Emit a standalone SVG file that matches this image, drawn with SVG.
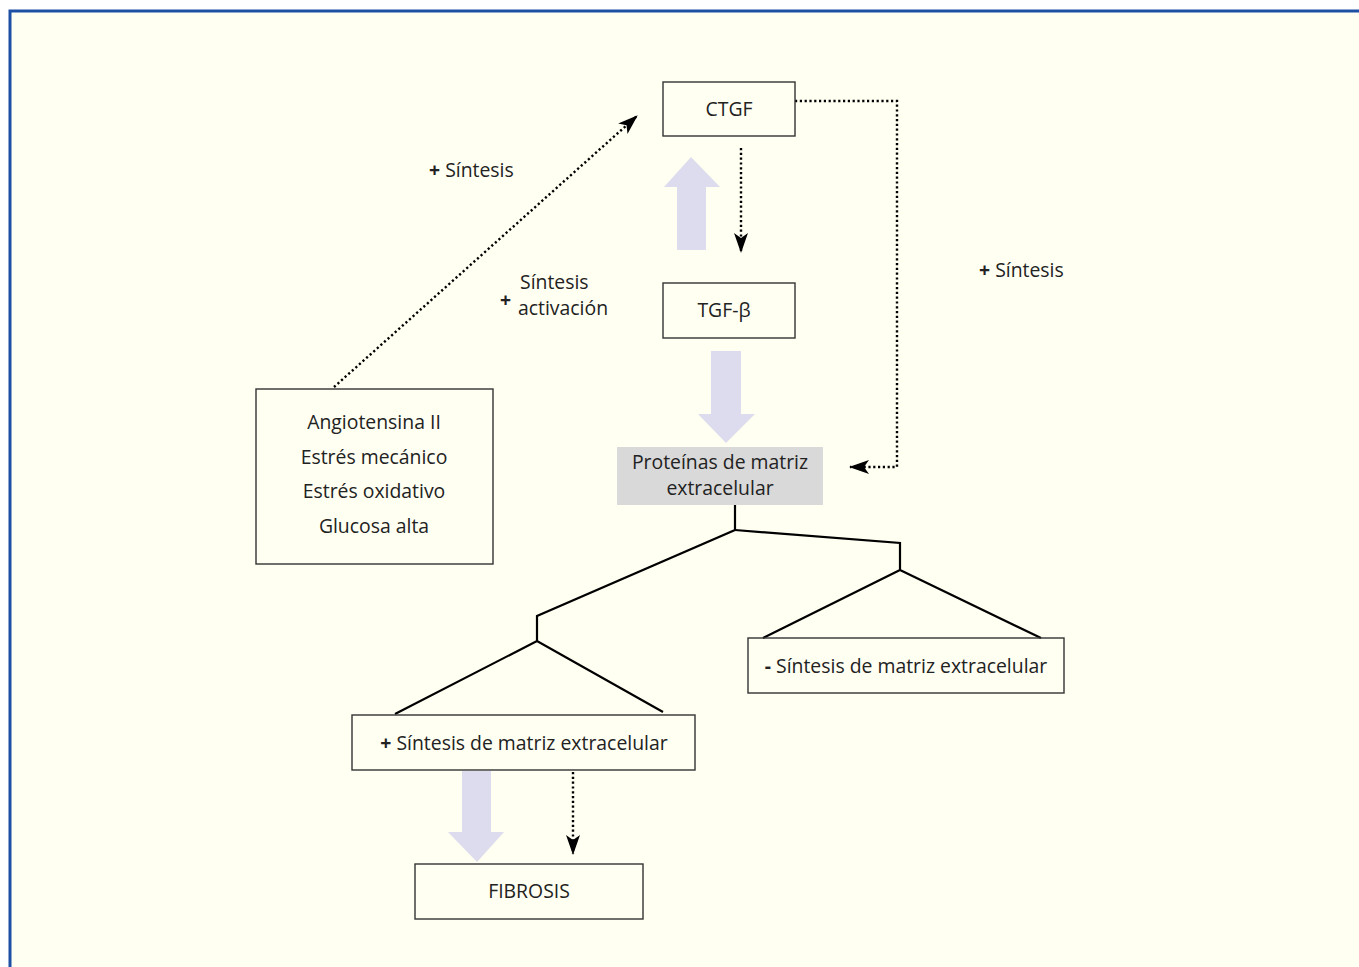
<svg xmlns="http://www.w3.org/2000/svg" width="1359" height="967" viewBox="0 0 1359 967">
<defs>
<style>
.box{fill:none;stroke:#333;stroke-width:1.4}
.t{font-family:"Open Sans","Noto Sans",sans-serif;font-size:19.4px;fill:#222;text-anchor:middle;dominant-baseline:central}
.tl{font-family:"Open Sans","Noto Sans",sans-serif;font-size:19.4px;fill:#222;dominant-baseline:central}
.b{font-weight:bold}
.dot{fill:none;stroke:#000;stroke-width:2.4;stroke-dasharray:2.2 2.6}
.tree{fill:none;stroke:#000;stroke-width:2.2}
.big{fill:#dcdcee}
</style>
<marker id="ah" markerWidth="20" markerHeight="14" refX="19" refY="7" orient="auto" markerUnits="userSpaceOnUse">
<path d="M0,0 L20,7 L0,14 L5,7 Z" fill="#000"/>
</marker>
</defs>
<rect x="0" y="0" width="1359" height="967" fill="#fff"/>
<rect x="10" y="11" width="1349" height="956" fill="#fffff2"/>
<path d="M10,967 V11 H1359" fill="none" stroke="#1d4fa5" stroke-width="3"/>

<g id="connectors">
<polygon class="big" points="677,250 706,250 706,187 720,187 691,157 664,187 677,187"/>
<polygon class="big" points="711,351 741,351 741,414 755,414 726,443 698,414 711,414"/>
<polygon class="big" points="462,771 491,771 491,832 504,832 477,862 448,832 462,832"/>
<line class="dot" x1="334" y1="387" x2="637" y2="116" marker-end="url(#ah)"/>
<line class="dot" x1="741" y1="148" x2="741" y2="252" marker-end="url(#ah)"/>
<path class="dot" d="M795,101 H897 V467 H850" marker-end="url(#ah)"/>
<line class="dot" x1="573" y1="772" x2="573" y2="854" marker-end="url(#ah)"/>
<path class="tree" d="M735,505 V530 L537,616 V641 M395,714 L537,641 L663,712"/>
<path class="tree" d="M735,530 L900,543 V570 M763,638 L900,570 L1041,638"/>
<text class="tl" x="429" y="169"><tspan class="b">+</tspan> Síntesis</text>
<text class="tl" x="979" y="269"><tspan class="b">+</tspan> Síntesis</text>
<text class="tl" x="520" y="281">Síntesis</text>
<text class="tl b" x="500" y="299">+</text>
<text class="tl" x="518" y="307">activación</text>
</g>

<g id="ctgf">
<rect class="box" x="663" y="82" width="132" height="54"/>
<text class="t" x="729" y="108">CTGF</text>
</g>
<g id="tgfb">
<rect class="box" x="663" y="283" width="132" height="55"/>
<text class="t" x="724" y="309">TGF-β</text>
</g>
<g id="proteinas">
<rect x="617" y="447" width="206" height="58" fill="#d9d9d9"/>
<text class="t" x="720" y="461">Proteínas de matriz</text>
<text class="t" x="720" y="487">extracelular</text>
</g>
<g id="estimulos">
<rect class="box" x="256" y="389" width="237" height="175"/>
<text class="t" x="374" y="421">Angiotensina II</text>
<text class="t" x="374" y="456">Estrés mecánico</text>
<text class="t" x="374" y="490">Estrés oxidativo</text>
<text class="t" x="374" y="525">Glucosa alta</text>
</g>
<g id="menos-sintesis">
<rect class="box" x="748" y="638" width="316" height="55"/>
<text class="t" x="906" y="665"><tspan class="b">-</tspan> Síntesis de matriz extracelular</text>
</g>
<g id="mas-sintesis">
<rect class="box" x="352" y="715" width="343" height="55"/>
<text class="t" x="524" y="742"><tspan class="b">+</tspan> Síntesis de matriz extracelular</text>
</g>
<g id="fibrosis">
<rect class="box" x="415" y="864" width="228" height="55"/>
<text class="t" x="529" y="890">FIBROSIS</text>
</g>
</svg>
